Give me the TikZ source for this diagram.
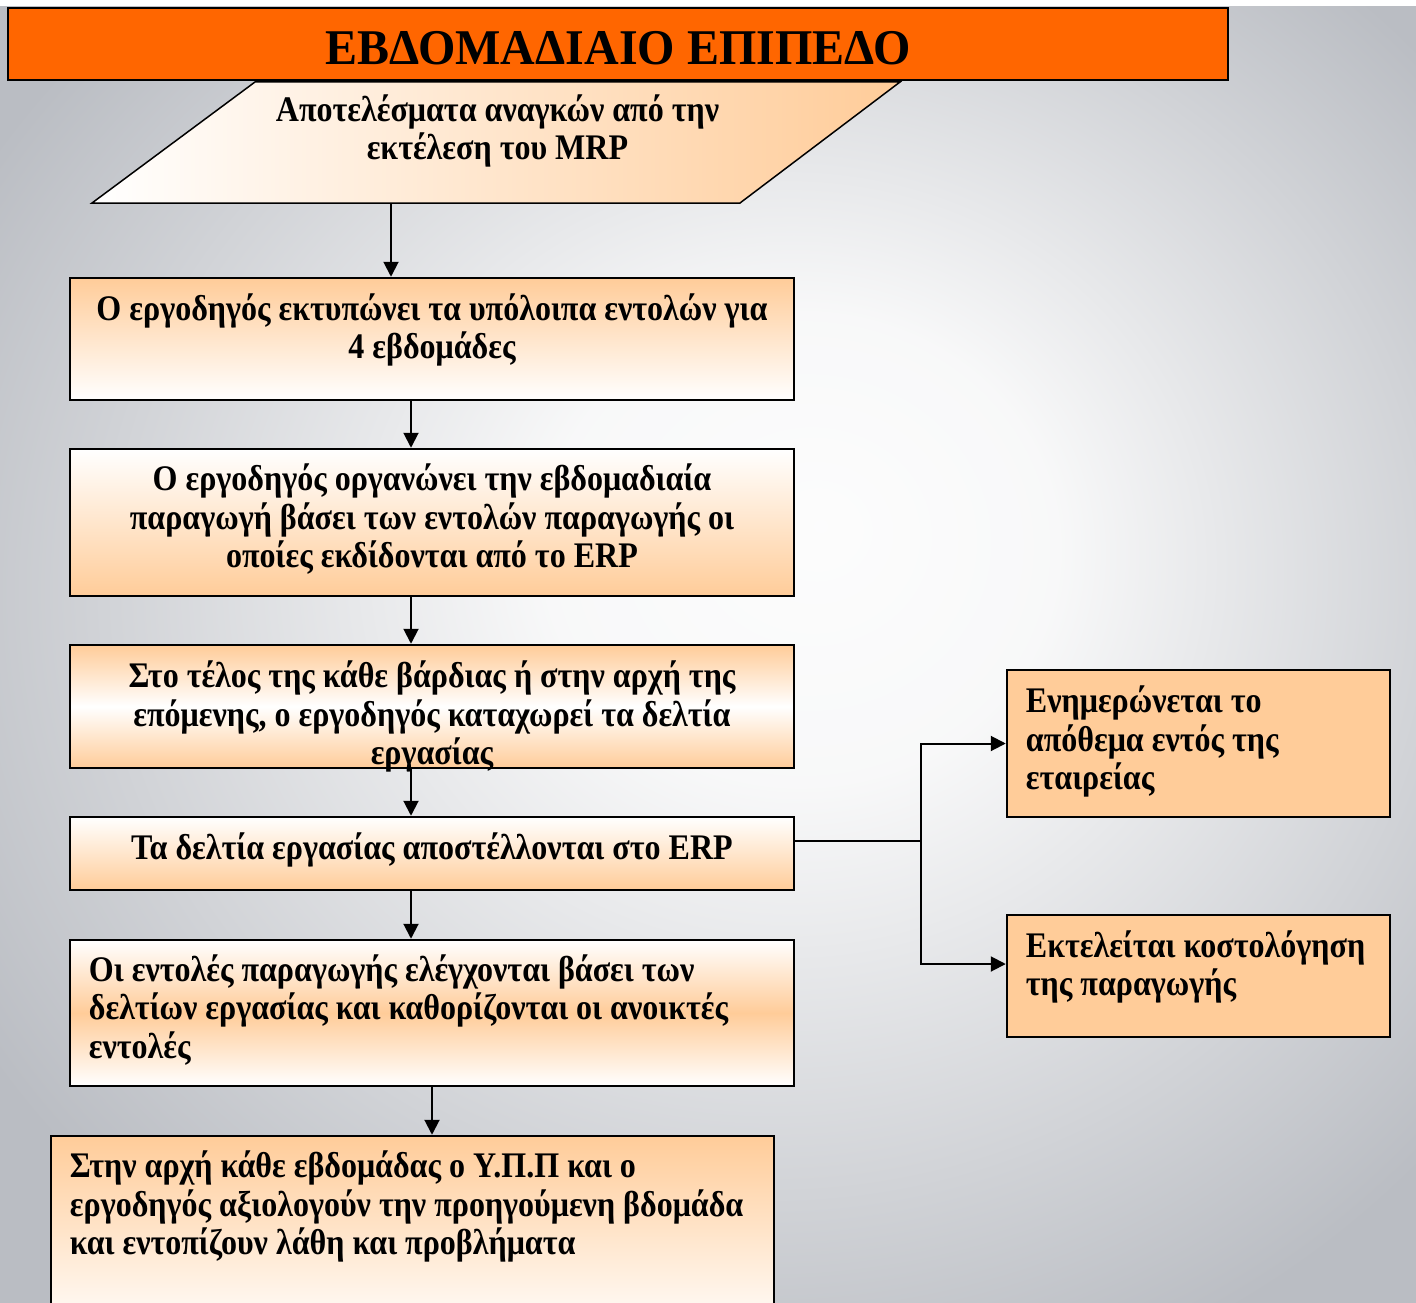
\documentclass[tikz,border=0pt]{standalone}
\usepackage{fontspec}
\setmainfont{Liberation Serif}[FakeStretch=0.89]
\newfontfamily\titlefont{Liberation Serif}[FakeStretch=0.96]
\usetikzlibrary{arrows.meta}
\definecolor{peach}{HTML}{FFCC99}
\definecolor{titleorange}{HTML}{FF6600}
\definecolor{bggray}{HTML}{BABDC3}
\pgfdeclareradialshading{bgshade}{\pgfpoint{4bp}{5bp}}{color(0bp)=(white!96!bggray); color(9bp)=(white!90!bggray); color(32bp)=(bggray); color(50bp)=(bggray)}
\tikzset{
  box/.style={draw=black, line width=2.5pt, rectangle, minimum width=724pt, inner sep=0pt},
  sidebox/.style={draw=black, line width=2.5pt, rectangle, fill=peach, minimum width=383pt, inner sep=0pt},
  txt/.style={font=\bfseries\fontsize{36}{38.5}\selectfont, inner sep=0pt},
  arr/.style={line width=2pt, -{Triangle[length=15pt,width=15pt]}}
}
\begin{document}
\begin{tikzpicture}[x=1pt,y=-1pt]
  \useasboundingbox (0,0) rectangle (1416,1303);
  \clip (0,0) rectangle (1416,1303);
  \fill[white] (0,0) rectangle (1416,1303);
  \shade[shading=bgshade] (0,7) rectangle (1416,1303);

  \node[draw=black, line width=2pt, fill=titleorange, minimum width=1220pt, minimum height=72pt, inner sep=0pt,
    text height=41pt, text depth=0pt,
    font=\titlefont\bfseries\fontsize{50}{55}\selectfont] (title) at (618,44) {ΕΒΔΟΜΑΔΙΑΙΟ ΕΠΙΠΕΔΟ};

  \path[draw=black, line width=1.5pt, left color=white, right color=peach]
    (255,82) -- (900,82) -- (740,203) -- (92,203) -- cycle;
  \coordinate (mrp) at (391,203);
  \node[txt, align=center] (mrpt) at (497.5,131) {Αποτελέσματα αναγκών από την\\εκτέλεση του MRP};

  \node[box, top color=peach, bottom color=white, minimum height=122pt] (b1) at (432,339) {};
  \node[box, top color=white, bottom color=peach, minimum height=147pt] (b2) at (432,522.5) {};
  \node[box, top color=peach, bottom color=peach, middle color=white, minimum height=123pt] (b3) at (432,706.5) {};
  \node[box, top color=white, bottom color=peach, minimum height=73pt] (b4) at (432,853.5) {};
  \node[box, top color=white, bottom color=white, middle color=peach, minimum height=146pt] (b5) at (432,1013) {};
  \node[box, top color=peach, bottom color=white, minimum width=723pt, minimum height=200pt] (b6) at (412.5,1236) {};
  \node[sidebox, minimum height=147pt] (r1) at (1198.5,743.5) {};
  \node[sidebox, minimum height=122pt] (r2) at (1198.5,976) {};

  \node[txt, align=center] (b1t) at ([yshift=9pt]b1.center) {Ο εργοδηγός εκτυπώνει τα υπόλοιπα εντολών για\\4 εβδομάδες};
  \node[txt, align=center] (b2t) at ([yshift=3pt]b2.center) {Ο εργοδηγός οργανώνει την εβδομαδιαία\\παραγωγή βάσει των εντολών παραγωγής οι\\οποίες εκδίδονται από το ERP};
  \node[txt, align=center] (b3t) at ([yshift=-10pt]b3.center) {Στο τέλος της κάθε βάρδιας ή στην αρχή της\\επόμενης, ο εργοδηγός καταχωρεί τα δελτία\\εργασίας};
  \node[txt, align=center] (b4t) at ([yshift=4pt]b4.center) {Τα δελτία εργασίας αποστέλλονται στο ERP};
  \node[txt, align=left, anchor=west] (b5t) at ([xshift=20pt,yshift=3pt]b5.west) {Οι εντολές παραγωγής ελέγχονται βάσει των\\δελτίων εργασίας και καθορίζονται οι ανοικτές\\εντολές};
  \node[txt, align=left, anchor=west] (b6t) at ([xshift=20pt,yshift=-72pt]b6.north west) {Στην αρχή κάθε εβδομάδας ο Υ.Π.Π και ο\\εργοδηγός αξιολογούν την προηγούμενη βδομάδα\\και εντοπίζουν λάθη και προβλήματα};
  \node[txt, align=left, anchor=west] (r1t) at ([xshift=20pt,yshift=2pt]r1.west) {Ενημερώνεται το\\απόθεμα εντός της\\εταιρείας};
  \node[txt, align=left, anchor=west] (r2t) at ([xshift=20pt,yshift=9pt]r2.west) {Εκτελείται κοστολόγηση\\της παραγωγής};

  \draw[arr] (mrp) -- (mrp |- b1.north);
  \foreach \a/\b in {b1/b2,b2/b3,b3/b4,b4/b5}
    \draw[arr] ([xshift=-21pt]\a.south) -- ([xshift=-21pt]\b.north);
  \draw[arr] (b5.south) -- (b5.south |- b6.north);

  \coordinate (jn) at (921,841);
  \draw[line width=2pt] (jn -| b4.east) -- (jn);
  \draw[arr] (jn) |- (r1.west);
  \draw[arr] (jn) |- ([yshift=12pt]r2.west);
\end{tikzpicture}
\end{document}
